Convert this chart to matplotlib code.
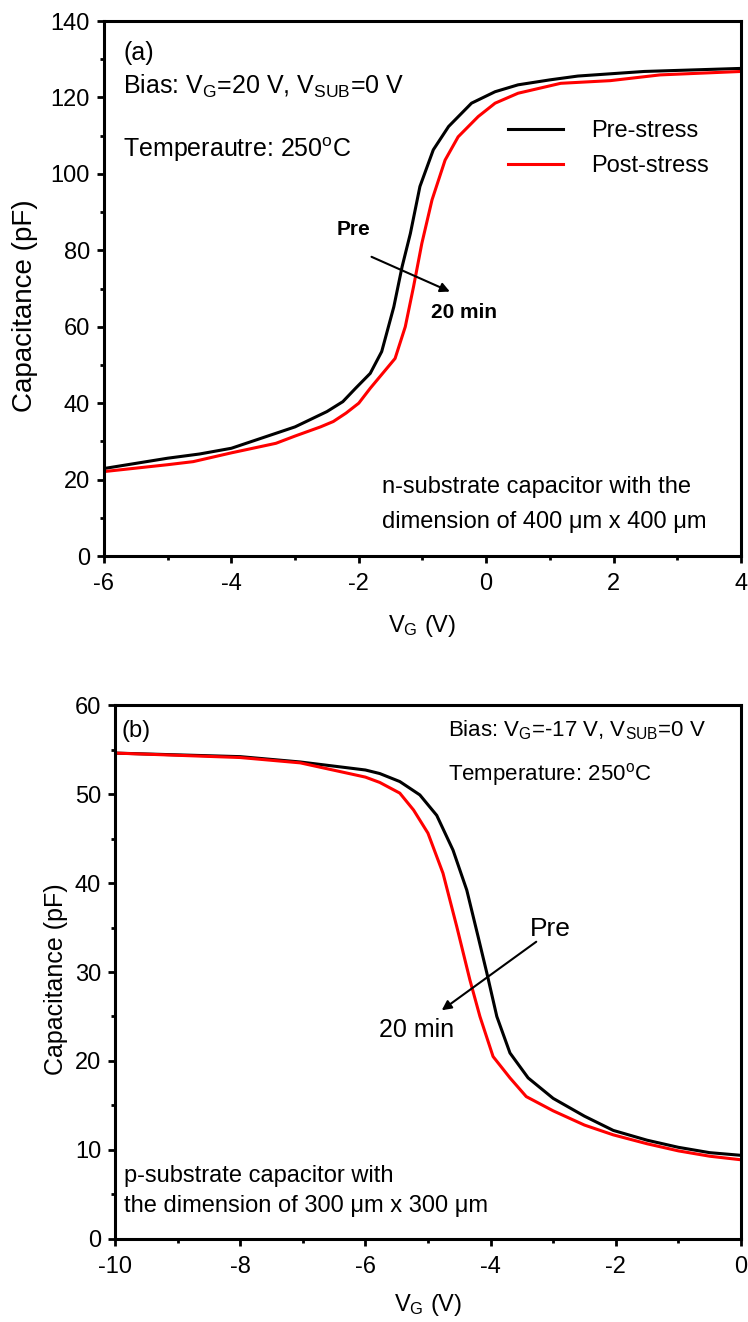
import matplotlib
matplotlib.use("Agg")
import matplotlib.pyplot as plt
from matplotlib.ticker import MultipleLocator

plt.rcParams["font.family"] = ["Liberation Sans", "DejaVu Sans"]
plt.rcParams["mathtext.fontset"] = "custom"
plt.rcParams["mathtext.rm"] = "Liberation Sans"
plt.rcParams["mathtext.it"] = "Liberation Sans:italic"
plt.rcParams["mathtext.bf"] = "Liberation Sans:bold"
plt.rcParams["axes.unicode_minus"] = False

# (a) n-substrate capacitor, C-V before and after 20 min stress
vg_a_pre = [-6.0, -5.0, -4.5, -4.0, -3.5, -3.0, -2.5, -2.25, -2.05, -1.82, -1.64,
            -1.45, -1.32, -1.19, -1.04, -0.83, -0.59, -0.23, 0.14, 0.5, 1.0, 1.44,
            2.48, 4.0]
c_a_pre = [22.9, 25.6, 26.7, 28.2, 31.0, 33.8, 37.8, 40.4, 43.9, 47.8, 53.5,
           65.2, 75.7, 84.4, 96.7, 106.3, 112.4, 118.5, 121.5, 123.3, 124.6, 125.6,
           126.8, 127.6]
vg_a_post = [-6.0, -5.0, -4.6, -4.0, -3.3, -3.0, -2.6, -2.4, -2.2, -2.0, -1.82,
             -1.43, -1.27, -1.14, -1.01, -0.85, -0.645, -0.44, -0.125, 0.14, 0.5,
             1.17, 1.95, 2.73, 4.0]
c_a_post = [22.1, 23.9, 24.7, 27.0, 29.5, 31.4, 33.8, 35.2, 37.4, 40.0, 43.9,
            51.7, 60.0, 70.5, 81.8, 93.2, 103.6, 109.7, 115.0, 118.5, 121.1,
            123.7, 124.4, 125.9, 126.8]

# (b) p-substrate capacitor, C-V before and after 20 min stress
vg_b_pre = [-10.0, -8.0, -7.04, -6.0, -5.77, -5.45, -5.13, -4.86, -4.6, -4.38, -4.2,
            -4.06, -3.9, -3.69, -3.4, -3.0, -2.5, -2.04, -1.5, -1.0, -0.5, 0.0]
c_b_pre = [54.6, 54.2, 53.6, 52.7, 52.3, 51.4, 49.9, 47.6, 43.7, 39.2, 34.0,
           29.9, 25.0, 20.9, 18.1, 15.8, 13.8, 12.2, 11.1, 10.3, 9.7, 9.4]
vg_b_post = [-10.0, -8.0, -7.04, -6.0, -5.77, -5.45, -5.23, -5.0, -4.76, -4.54, -4.33,
             -4.17, -3.96, -3.69, -3.43, -3.0, -2.5, -2.04, -1.5, -1.0, -0.5, 0.0]
c_b_post = [54.6, 54.1, 53.5, 51.9, 51.3, 50.1, 48.2, 45.6, 41.1, 35.1, 29.1,
            25.0, 20.5, 18.1, 16.0, 14.4, 12.8, 11.7, 10.7, 9.9, 9.3, 8.9]

series_labels = ["Pre-stress", "Post-stress"]
line_colors = ["black", "#ff0000"]

fig = plt.figure(figsize=(7.48, 13.22), dpi=100)
ax_a = fig.add_axes([0.139, 0.5794, 0.8516, 0.4047])
ax_b = fig.add_axes([0.1537, 0.0628, 0.8369, 0.4039])


def style_axes(ax, xlim, ylim, xmaj, xmin, ymaj, ymin, tick_fs):
    ax.set_xlim(*xlim)
    ax.set_ylim(*ylim)
    ax.xaxis.set_major_locator(MultipleLocator(xmaj))
    ax.xaxis.set_minor_locator(MultipleLocator(xmin))
    ax.yaxis.set_major_locator(MultipleLocator(ymaj))
    ax.yaxis.set_minor_locator(MultipleLocator(ymin))
    for sp in ax.spines.values():
        sp.set_linewidth(2.2)
    ax.tick_params(which="major", direction="out", length=5, width=2.0,
                   labelsize=tick_fs, top=False, right=False)
    ax.tick_params(which="minor", direction="out", length=3, width=2.0,
                   top=False, right=False)
    ax.tick_params(axis="x", which="major", pad=7)
    ax.tick_params(axis="y", which="major", pad=5)


# ---- panel (a)
ax_a.plot(vg_a_pre, c_a_pre, color=line_colors[0], lw=2.2, label=series_labels[0])
ax_a.plot(vg_a_post, c_a_post, color=line_colors[1], lw=2.2, label=series_labels[1])
style_axes(ax_a, (-6, 4), (0, 140), 2, 1, 20, 10, 17)
ax_a.set_xlabel(r"V$_\mathrm{G}$ (V)", fontsize=17)
ax_a.xaxis.set_label_coords(0.5, -0.106)
ax_a.set_ylabel("Capacitance (pF)", fontsize=20)
ax_a.yaxis.set_label_coords(-0.103, 0.467)

ax_a.text(-5.70, 129.8, "(a)", fontsize=18, va="baseline")
ax_a.text(-5.70, 120.9, r"Bias: V$_\mathrm{G}$=20 V, V$_\mathrm{SUB}$=0 V",
          fontsize=18, va="baseline")
ax_a.text(-5.70, 104.4, r"Temperautre: 250$^\mathrm{o}$C", fontsize=18, va="baseline")
ax_a.text(-1.64, 16.4, "n-substrate capacitor with the", fontsize=17, va="baseline")
ax_a.text(-1.64, 7.25, "dimension of 400 μm x 400 μm", fontsize=17, va="baseline")
ax_a.text(-2.34, 84.0, "Pre", fontsize=15, fontweight="bold", va="baseline")
ax_a.text(-0.86, 62.2, "20 min", fontsize=15, fontweight="bold", va="baseline")
ax_a.annotate("", xy=(-0.57, 69.2), xytext=(-1.80, 78.3),
              arrowprops=dict(arrowstyle="-|>", color="black", lw=1.5,
                              mutation_scale=14, shrinkA=0, shrinkB=0))
ax_a.legend(loc="upper left", bbox_to_anchor=(0.62, 0.833), frameon=False,
            fontsize=17, handlelength=2.3, handletextpad=1.2, labelspacing=0.55,
            borderaxespad=0.0)

# ---- panel (b)
ax_b.plot(vg_b_pre, c_b_pre, color=line_colors[0], lw=2.2)
ax_b.plot(vg_b_post, c_b_post, color=line_colors[1], lw=2.2)
style_axes(ax_b, (-10, 0), (0, 60), 2, 1, 10, 5, 17)
ax_b.set_xlabel(r"V$_\mathrm{G}$ (V)", fontsize=17)
ax_b.xaxis.set_label_coords(0.5, -0.099)
ax_b.set_ylabel("Capacitance (pF)", fontsize=18)
ax_b.yaxis.set_label_coords(-0.075, 0.487)

ax_b.text(-9.89, 56.4, "(b)", fontsize=17, va="baseline")
ax_b.text(-4.68, 56.5, r"Bias: V$_\mathrm{G}$=-17 V, V$_\mathrm{SUB}$=0 V",
          fontsize=16, va="baseline")
ax_b.text(-4.68, 51.5, r"Temperature: 250$^\mathrm{o}$C", fontsize=16, va="baseline")
ax_b.text(-9.86, 6.4, "p-substrate capacitor with", fontsize=17, va="baseline")
ax_b.text(-9.86, 3.0, "the dimension of 300 μm x 300 μm", fontsize=17, va="baseline")
ax_b.text(-3.37, 34.0, "Pre", fontsize=19, va="baseline")
ax_b.text(-5.78, 22.7, "20 min", fontsize=18, va="baseline")
ax_b.annotate("", xy=(-4.78, 25.7), xytext=(-3.27, 33.4),
              arrowprops=dict(arrowstyle="-|>", color="black", lw=1.5,
                              mutation_scale=14, shrinkA=0, shrinkB=0))

fig.savefig("out.png", dpi=100)
